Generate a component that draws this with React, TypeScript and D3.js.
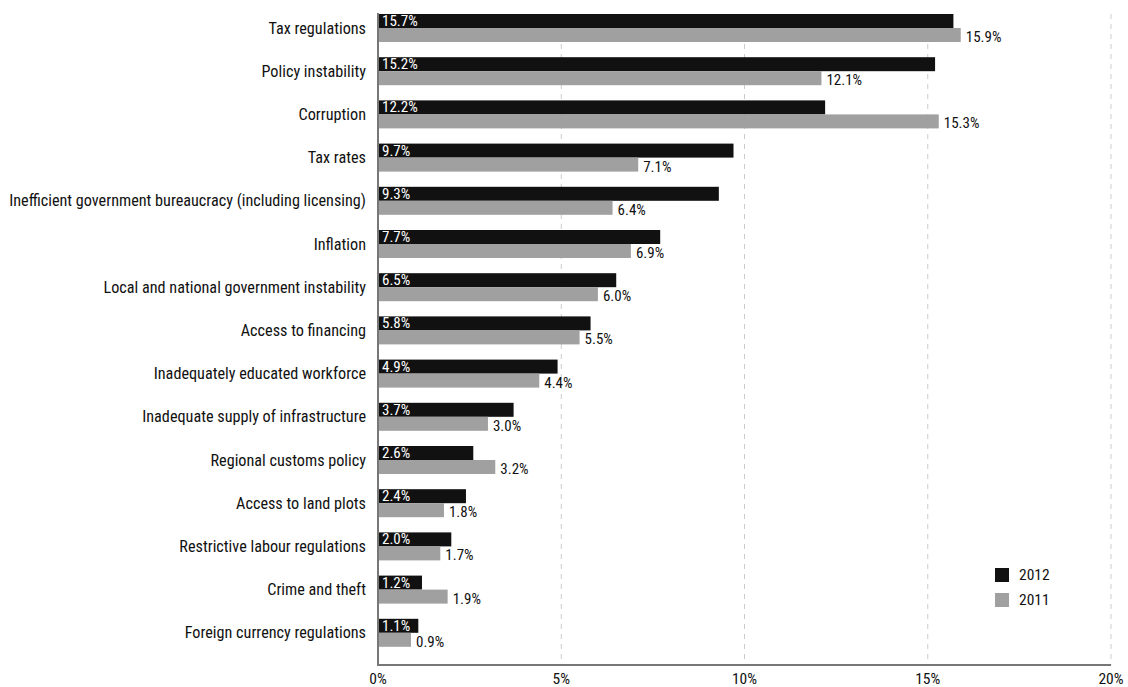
import React from "react";
import * as d3 from "d3";

const categories = [
  "Tax regulations",
  "Policy instability",
  "Corruption",
  "Tax rates",
  "Inefficient government bureaucracy (including licensing)",
  "Inflation",
  "Local and national government instability",
  "Access to financing",
  "Inadequately educated workforce",
  "Inadequate supply of infrastructure",
  "Regional customs policy",
  "Access to land plots",
  "Restrictive labour regulations",
  "Crime and theft",
  "Foreign currency regulations",
];
const values2012 = [15.7, 15.2, 12.2, 9.7, 9.3, 7.7, 6.5, 5.8, 4.9, 3.7, 2.6, 2.4, 2.0, 1.2, 1.1];
const values2011 = [15.9, 12.1, 15.3, 7.1, 6.4, 6.9, 6.0, 5.5, 4.4, 3.0, 3.2, 1.8, 1.7, 1.9, 0.9];
const xTicks = [0, 5, 10, 15, 20];
const seriesNames = ["2012", "2011"];

const W = 1128;
const H = 687;
const FONT = "'Liberation Sans Narrow', 'Arial Narrow', 'Roboto Condensed', sans-serif";
const BLACK = "#111111";
const GREY = "#a0a0a0";

export default function App() {
  const x = d3.scaleLinear().domain([0, 20]).range([378, 1111]);
  const y = d3.scaleBand<string>().domain(categories).range([6.4, 654.4]).padding(0);
  const barH = 14;
  const axisY = 665;
  const fmt = (v: number) => v.toFixed(1) + "%";

  return (
    <svg width={W} height={H} style={{ position: "absolute", left: 0, top: 0, background: "#fff" }} fontFamily={FONT}>
      {xTicks.slice(1).map((t) => (
        <line key={"g" + t} x1={x(t)} x2={x(t)} y1={14} y2={axisY} stroke="#cccccc" strokeWidth={1} strokeDasharray="5,5" />
      ))}
      {categories.map((c, i) => {
        const cy = (y(c) as number) + y.bandwidth() / 2;
        return (
          <g key={c}>
            <text x={366} y={cy} dy="0.35em" textAnchor="end" fontSize={16.2} fill="#111">
              {c}
            </text>
            <rect x={x(0)} y={cy - barH} width={x(values2012[i]) - x(0)} height={barH} fill={BLACK} />
            <rect x={x(0)} y={cy} width={x(values2011[i]) - x(0)} height={barH} fill={GREY} />
            <text x={x(0) + 4} y={cy - 2} textAnchor="start" fontSize={15} fill="#fff">
              {fmt(values2012[i])}
            </text>
            <text x={x(values2011[i]) + 5} y={cy + 14} textAnchor="start" fontSize={15} fill="#111">
              {fmt(values2011[i])}
            </text>
          </g>
        );
      })}
      <line x1={x(0)} x2={x(0)} y1={13} y2={axisY + 1} stroke="#777" strokeWidth={2} />
      <line x1={x(0) - 1} x2={x(20)} y1={axisY} y2={axisY} stroke="#777" strokeWidth={2} />
      {xTicks.map((t) => (
        <text key={"t" + t} x={x(t)} y={684} textAnchor="middle" fontSize={15.5} fill="#111">
          {t + "%"}
        </text>
      ))}
      {seriesNames.map((s, i) => (
        <g key={s} transform={`translate(995, ${568 + i * 25})`}>
          <rect x={0} y={0} width={14} height={14} fill={i === 0 ? BLACK : GREY} />
          <text x={24} y={7} dy="0.35em" fontSize={15.5} fill="#111">
            {s}
          </text>
        </g>
      ))}
    </svg>
  );
}
